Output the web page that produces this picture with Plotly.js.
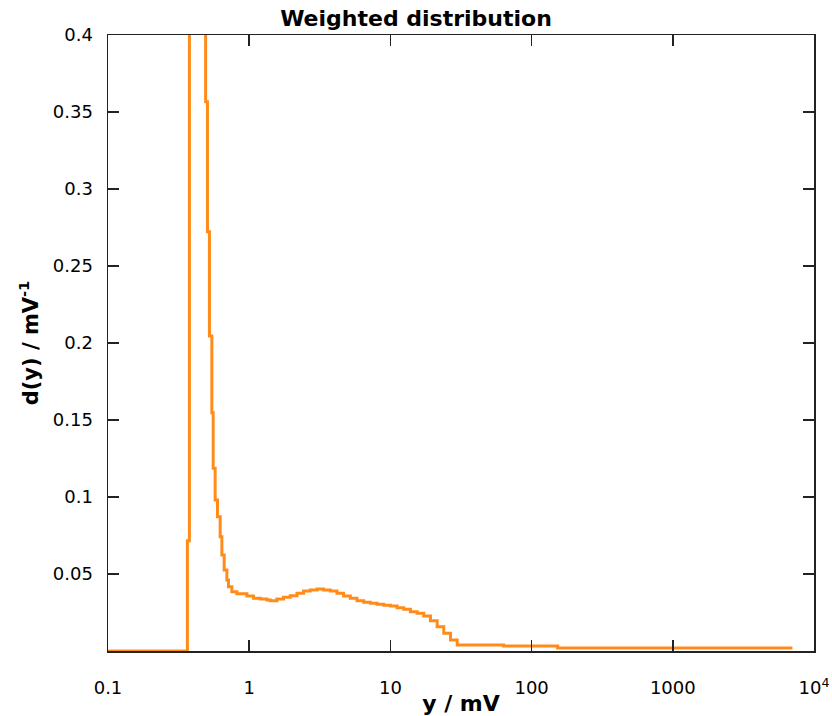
<!DOCTYPE html>
<html>
<head>
<meta charset="utf-8">
<script src="https://cdn.plot.ly/plotly-3.0.1.min.js"></script>
<style>html,body{margin:0;padding:0;background:#fff;}#chart{width:832px;height:716px;}</style>
</head>
<body>
<div id="chart"></div>
<script>
// Bin left edges (mV) and weighted density d(y) (1/mV), drawn as a step line
const yEdges = [0.1, 0.365, 0.3772, 0.4914, 0.5062, 0.5229, 0.5438, 0.5556, 0.5741, 0.5961,
  0.6229, 0.6404, 0.6649, 0.6948, 0.7133, 0.7538, 0.818, 0.9631, 1.0727, 1.1967,
  1.3354, 1.4091, 1.572, 1.7511, 1.9534, 2.1796, 2.4275, 2.7078, 3.0209, 3.3646,
  3.7538, 4.188, 4.6645, 5.2036, 5.8054, 6.4661, 7.2136, 8.0478, 8.9637, 10.0,
  11.157, 12.427, 13.864, 15.467, 17.227, 19.219, 21.441, 23.88, 26.64, 29.72,
  63.3, 152.9, 6869];
const density = [0, 0.0716, 0.6, 0.3567, 0.2723, 0.2045, 0.1547, 0.1186, 0.0981, 0.0872,
  0.0742, 0.0623, 0.0526, 0.0461, 0.0418, 0.0385, 0.0372, 0.0357, 0.0342, 0.0338,
  0.0331, 0.0327, 0.0338, 0.0349, 0.0359, 0.0375, 0.039, 0.0396, 0.0403, 0.0396,
  0.039, 0.0375, 0.0357, 0.0342, 0.0327, 0.0316, 0.031, 0.0303, 0.0297, 0.0292,
  0.0281, 0.0271, 0.0255, 0.0245, 0.0227, 0.0197, 0.0158, 0.0115, 0.0071, 0.0039,
  0.0032, 0.0019, 0.001];

const xTickVals = [0.1, 1, 10, 100, 1000, 10000];
const xTickText = ['0.1', '1', '10', '100', '1000', '10<sup>4</sup>'];
const yTickVals = [0.05, 0.1, 0.15, 0.2, 0.25, 0.3, 0.35, 0.4];
const yTickText = ['0.05', '0.1', '0.15', '0.2', '0.25', '0.3', '0.35', '0.4'];

const trace = {
  x: yEdges,
  y: density,
  type: 'scatter',
  mode: 'lines',
  line: {shape: 'hv', color: '#ff8c1a', width: 3},
  hoverinfo: 'x+y'
};

const fam = '"DejaVu Sans", Verdana, sans-serif';
const axisCommon = {
  showline: true, linecolor: '#222', linewidth: 1.5, mirror: 'ticks',
  ticks: 'inside', ticklen: 11, tickwidth: 1.5, tickcolor: '#222',
  showgrid: false, zeroline: false,
  tickfont: {family: fam, size: 18, color: '#000'}
};

const layout = {
  width: 832, height: 716,
  margin: {l: 108, r: 18, t: 35, b: 65},
  paper_bgcolor: '#fff', plot_bgcolor: '#fff',
  showlegend: false,
  font: {family: fam, color: '#000'},
  title: {text: '<b>Weighted distribution</b>', x: 0.5, xref: 'container', y: 0.975, yref: 'container', yanchor: 'middle',
          font: {family: fam, size: 22, color: '#000'}},
  xaxis: Object.assign({}, axisCommon, {
    type: 'log', range: [-1, 4],
    tickmode: 'array', tickvals: xTickVals, ticktext: xTickText,
    ticklabelstandoff: 20,
    title: {text: '<b>y / mV</b>', standoff: 4, font: {family: fam, size: 22, color: '#000'}}
  }),
  yaxis: Object.assign({}, axisCommon, {
    range: [0, 0.4],
    tickmode: 'array', tickvals: yTickVals, ticktext: yTickText,
    ticklabelstandoff: 10,
    title: {text: '<b>d(y) / mV<sup>-1</sup></b>', standoff: 8, font: {family: fam, size: 21, color: '#000'}}
  })
};

Plotly.newPlot('chart', [trace], layout, {displayModeBar: false, staticPlot: true});
</script>
</body>
</html>
